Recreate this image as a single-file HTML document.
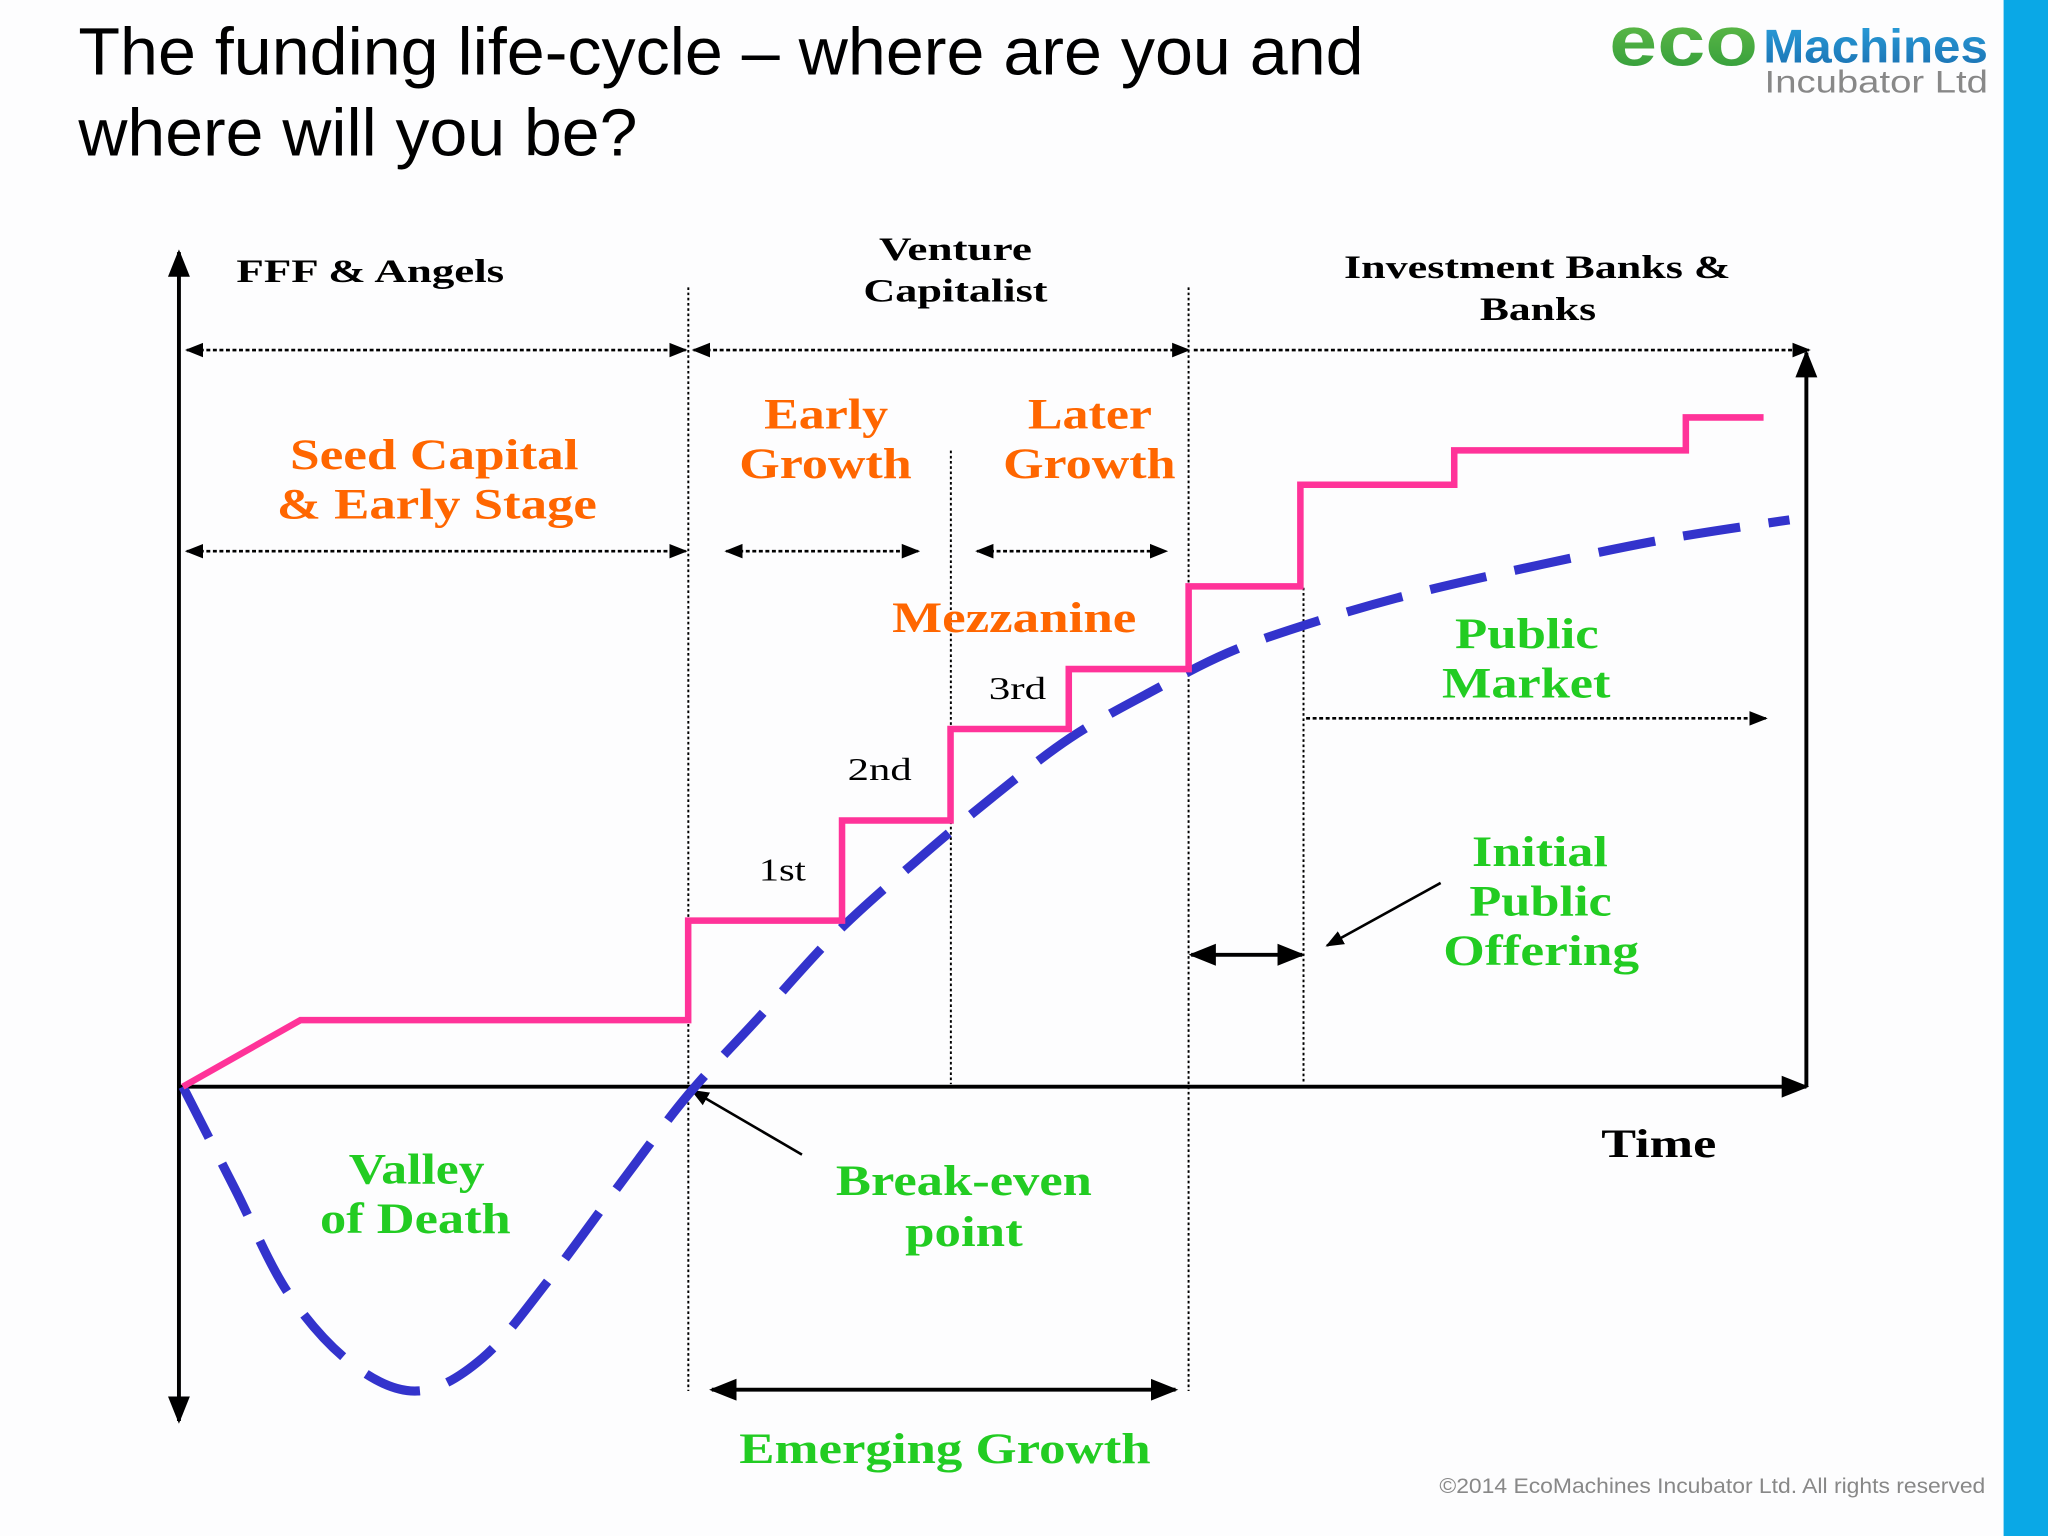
<!DOCTYPE html>
<html><head><meta charset="utf-8"><style>
html,body{margin:0;padding:0;background:#fff;}
svg{display:block;}
.s{font-family:"Liberation Serif",serif;font-weight:bold;}
</style></head><body>
<svg width="2048" height="1536" viewBox="0 0 1568 1176" xmlns="http://www.w3.org/2000/svg">
<defs>
<marker id="ahs" viewBox="0 0 10 10" refX="9" refY="5" markerWidth="7" markerHeight="7" orient="auto-start-reverse"><path d="M0,1 L10,5 L0,9 z" fill="#000"/></marker>
<linearGradient id="eco" x1="0" x2="0" y1="0" y2="1"><stop offset="0" stop-color="#6cc24a"/><stop offset="1" stop-color="#2e9a3a"/></linearGradient>
<linearGradient id="mac" x1="0" x2="0" y1="0" y2="1"><stop offset="0" stop-color="#2aa0dc"/><stop offset="1" stop-color="#1a6fb0"/></linearGradient>
</defs>
<rect x="0" y="0" width="1568" height="1176" fill="#fdfdfe"/>
<rect x="1534" y="0" width="34" height="1176" fill="#0aa8e6"/>
<text x="60" y="57" font-family="Liberation Sans, sans-serif" font-size="51" fill="#000" textLength="984">The funding life-cycle – where are you and</text>
<text x="60" y="119" font-family="Liberation Sans, sans-serif" font-size="51" fill="#000" textLength="428">where will you be?</text>
<g>
<text x="1232" y="50" font-family="Liberation Sans, sans-serif" font-weight="bold" font-size="54" fill="url(#eco)" textLength="114">eco</text>
<text x="1350" y="48" font-family="Liberation Sans, sans-serif" font-weight="bold" font-size="36" fill="url(#mac)" textLength="172">Machines</text>
<text x="1351" y="71" font-family="Liberation Sans, sans-serif" font-size="24" fill="#888" textLength="171">Incubator Ltd</text>
</g>
<text x="1102" y="1143" font-family="Liberation Sans, sans-serif" font-size="16" fill="#888" textLength="418">©2014 EcoMachines Incubator Ltd. All rights reserved</text>

<g fill="none" stroke="#000" stroke-width="1.5" stroke-dasharray="2 2">
<line x1="527" y1="220" x2="527" y2="1065"/>
<line x1="728" y1="345" x2="728" y2="830"/>
<line x1="910" y1="220" x2="910" y2="1065"/>
<line x1="998" y1="450" x2="998" y2="830"/>
</g>
<g stroke="#000" stroke-width="2" stroke-dasharray="3 2" fill="none">
<line x1="143" y1="268" x2="525" y2="268" marker-start="url(#ahs)" marker-end="url(#ahs)"/>
<line x1="531" y1="268" x2="910" y2="268" marker-start="url(#ahs)" marker-end="url(#ahs)"/>
<line x1="914" y1="268" x2="1385" y2="268" marker-end="url(#ahs)"/>
<line x1="143" y1="422" x2="525" y2="422" marker-start="url(#ahs)" marker-end="url(#ahs)"/>
<line x1="556" y1="422" x2="703" y2="422" marker-start="url(#ahs)" marker-end="url(#ahs)"/>
<line x1="748" y1="422" x2="893" y2="422" marker-start="url(#ahs)" marker-end="url(#ahs)"/>
<line x1="1000" y1="550" x2="1352" y2="550" marker-end="url(#ahs)"/>
</g>
<g stroke="#000" stroke-width="3" fill="none">
<line x1="137" y1="1088" x2="137" y2="193" marker-start="url(#ahs)" marker-end="url(#ahs)"/>
<line x1="137" y1="832" x2="1383" y2="832" marker-end="url(#ahs)"/>
<line x1="1383" y1="832" x2="1383" y2="270" marker-end="url(#ahs)"/>
<line x1="545" y1="1064" x2="900" y2="1064" marker-start="url(#ahs)" marker-end="url(#ahs)"/>
<line x1="912" y1="731" x2="997" y2="731" marker-start="url(#ahs)" marker-end="url(#ahs)"/>
<line x1="1103" y1="676" x2="1016" y2="724" stroke-width="2" marker-end="url(#ahs)"/>
<line x1="614" y1="884" x2="530" y2="835" stroke-width="2" marker-end="url(#ahs)"/>
</g>
<g id="series"></g>

<g class="s" fill="#000" font-size="25">
<text x="181" y="216" textLength="205">FFF &amp; Angels</text>
<text x="673" y="199" textLength="117">Venture</text>
<text x="661" y="231" textLength="141">Capitalist</text>
<text x="1029" y="213" textLength="296">Investment Banks &amp;</text>
<text x="1133" y="245" textLength="89">Banks</text>
<text x="1226" y="886" font-size="31" textLength="88">Time</text>
<text x="581" y="674" font-size="24" font-weight="normal" textLength="36">1st</text>
<text x="649" y="597" font-size="24" font-weight="normal" textLength="49">2nd</text>
<text x="757" y="535" font-size="24" font-weight="normal" textLength="44">3rd</text>
</g>
<g class="s" fill="#ff6600" font-size="33">
<text x="222" y="359" textLength="221">Seed Capital</text>
<text x="212" y="397" textLength="245">&amp; Early Stage</text>
<text x="585" y="328" textLength="95">Early</text>
<text x="566" y="366" textLength="132">Growth</text>
<text x="787" y="328" textLength="95">Later</text>
<text x="768" y="366" textLength="132">Growth</text>
<text x="683" y="484" textLength="187">Mezzanine</text>
</g>
<g class="s" fill="#22cc22" font-size="33">
<text x="1114" y="496" textLength="110">Public</text>
<text x="1104" y="534" textLength="129">Market</text>
<text x="1127" y="663" textLength="104">Initial</text>
<text x="1125" y="701" textLength="109">Public</text>
<text x="1105" y="739" textLength="150">Offering</text>
<text x="267" y="906" textLength="104">Valley</text>
<text x="245" y="944" textLength="146">of Death</text>
<text x="640" y="915" textLength="196">Break-even</text>
<text x="693" y="954" textLength="90">point</text>
<text x="566" y="1120" textLength="315">Emerging Growth</text>
</g>
</svg>
<script>
document.querySelectorAll('text[textLength]').forEach(t=>t.setAttribute('lengthAdjust','spacingAndGlyphs'));
const fundingT = [0,7.26,31.2,31.2,40.7,40.7,47.4,47.4,54.7,54.7,62.1,62.1,69.0,69.0,78.5,78.5,92.8,92.8,97.6];
const fundingV = [0,9.1,9.1,22.7,22.7,36.4,36.4,48.9,48.9,57.1,57.1,68.4,68.4,82.3,82.3,87.0,87.0,91.5,91.5];
const cashT = [0,3.2,6.5,10.5,14.5,18.5,22.6,27.4,31.2,35.5,40.3,45.2,50,54.8,59.7,64.5,69.4,75.8,83.9,91.9,99.2];
const cashV = [0,-13.9,-28.2,-38,-41.6,-37.1,-26.4,-12.1,-1.1,9.3,20.9,30.7,39.6,47.7,53.9,59.3,63.2,67.3,71.4,75,77.5];
function xs(t){return 140+t*12.4;}
function ys(v){return 832-v*5.6;}
const NS="http://www.w3.org/2000/svg";
const g=document.getElementById('series');
const cp=cashT.map((t,i)=>[xs(t),ys(cashV[i])]);
let d="M"+cp[0][0]+","+cp[0][1];
for(let i=0;i<cp.length-1;i++){
 const p0=cp[Math.max(0,i-1)],p1=cp[i],p2=cp[i+1],p3=cp[Math.min(cp.length-1,i+2)];
 d+=" C"+(p1[0]+(p2[0]-p0[0])/6)+","+(p1[1]+(p2[1]-p0[1])/6)+" "+(p2[0]-(p3[0]-p1[0])/6)+","+(p2[1]-(p3[1]-p1[1])/6)+" "+p2[0]+","+p2[1];
}
const blue=document.createElementNS(NS,'path');
blue.setAttribute('d',d);
blue.setAttribute('fill','none');
blue.setAttribute('stroke','#3333cc');
blue.setAttribute('stroke-width','7');
blue.setAttribute('stroke-dasharray','44 22');


g.appendChild(blue);
const pink=document.createElementNS(NS,'polyline');
pink.setAttribute('points',fundingT.map((t,i)=>xs(t)+","+ys(fundingV[i])).join(" "));
pink.setAttribute('fill','none');
pink.setAttribute('stroke','#ff3399');
pink.setAttribute('stroke-width','5');


g.appendChild(pink);
</script>
</body></html>
